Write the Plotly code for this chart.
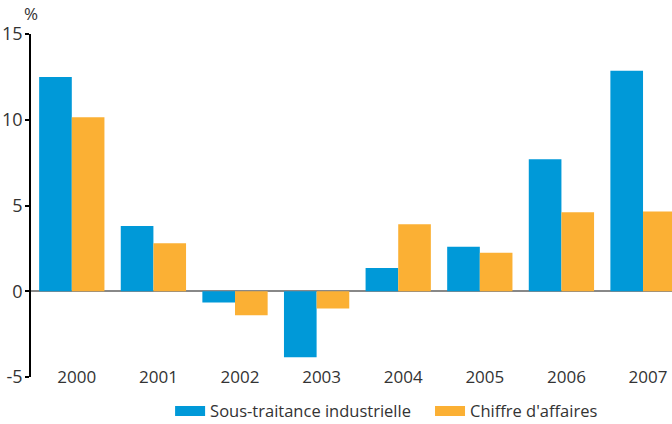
import plotly.graph_objects as go

years = ["2000", "2001", "2002", "2003", "2004", "2005", "2006", "2007"]
sous_traitance = [12.5, 3.8, -0.65, -3.85, 1.35, 2.6, 7.7, 12.85]
chiffre_affaires = [10.15, 2.8, -1.4, -1.0, 3.9, 2.25, 4.6, 4.65]
y_ticks = [-5, 0, 5, 10, 15]
y_tick_labels = ["-5", "0", "5", "10", "15"]
series_names = ["Sous-traitance industrielle", "Chiffre d'affaires"]

BLUE = "#0099D8"
ORANGE = "#FBB034"
TXT = "#333333"
FONT = "Open Sans"

fig = go.Figure()
fig.add_trace(go.Bar(x=years, y=sous_traitance, name=series_names[0],
                     marker=dict(color=BLUE, line=dict(width=0)), showlegend=False))
fig.add_trace(go.Bar(x=years, y=chiffre_affaires, name=series_names[1],
                     marker=dict(color=ORANGE, line=dict(width=0)), showlegend=False))
# legend entries drawn as wide swatches, one legend box each
fig.add_trace(go.Scatter(x=[None], y=[None], mode="lines", name=series_names[0],
                         line=dict(color=BLUE, width=10), legend="legend"))
fig.add_trace(go.Scatter(x=[None], y=[None], mode="lines", name=series_names[1],
                         line=dict(color=ORANGE, width=10), legend="legend2"))

leg_common = dict(orientation="h", xanchor="left", y=-0.1, yanchor="middle",
                  font=dict(family=FONT, size=16.5, color=TXT),
                  bgcolor="rgba(0,0,0,0)")

fig.update_layout(
    width=672, height=424,
    margin=dict(l=31, r=0, t=34, b=47, autoexpand=False),
    paper_bgcolor="white", plot_bgcolor="white",
    barmode="group", bargap=0.2, bargroupgap=0,
    font=dict(family=FONT, size=16, color=TXT),
    showlegend=True,
    legend=dict(x=0.217, **leg_common),
    legend2=dict(x=0.6225, **leg_common),
    xaxis=dict(type="category", range=[-0.5, 7.355], showgrid=False, showline=False,
               ticks="", tickfont=dict(family=FONT, size=17, color=TXT),
               ticklabelstandoff=-12, ticklabelshift=5, zeroline=False, automargin=False),
    yaxis=dict(range=[-5, 15], tickvals=y_ticks, ticktext=y_tick_labels, showgrid=False,
               showline=True, linecolor="black", linewidth=1.5,
               ticks="outside", ticklen=4, tickcolor="black", tickwidth=1.5,
               tickfont=dict(family=FONT, size=18, color=TXT), automargin=False,
               ticklabelstandoff=-1,
               zeroline=True, zerolinecolor="#888888", zerolinewidth=2),
    annotations=[dict(text="%", xref="paper", yref="paper", x=0, y=1, xanchor="center",
                      yanchor="bottom", yshift=7, showarrow=False,
                      font=dict(family=FONT, size=17, color=TXT))],
)

fig.write_html("out.html", config={"displayModeBar": False},
               post_script="document.body.style.margin='0';document.body.style.overflow='hidden';")
